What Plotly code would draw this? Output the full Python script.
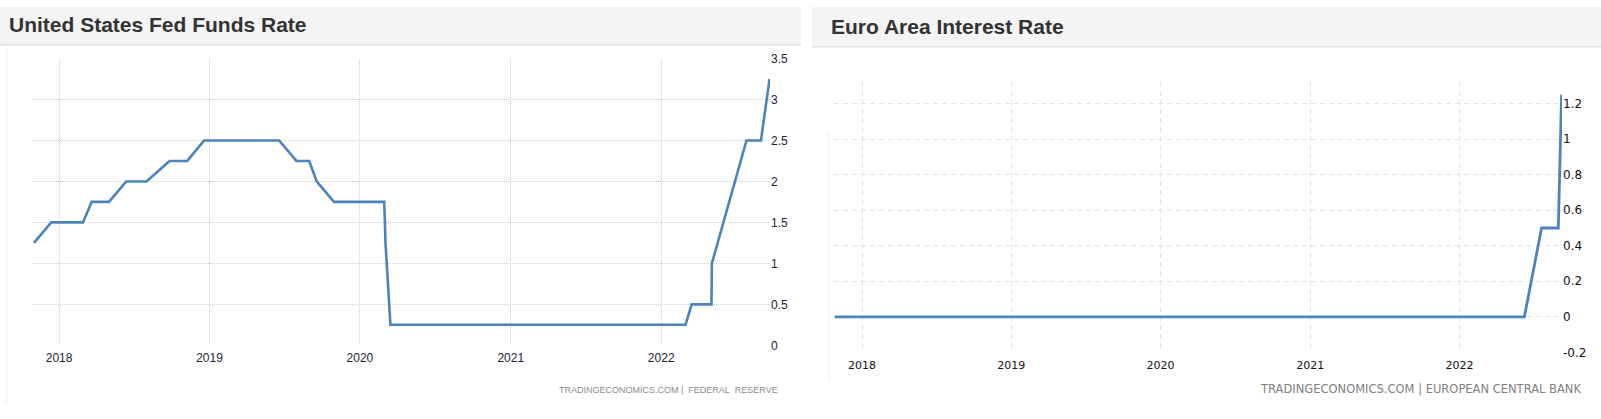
import plotly.graph_objects as go

W, H = 1601, 419

# ---------------- data ----------------
left_title = "United States Fed Funds Rate"
right_title = "Euro Area Interest Rate"
left_source = "TRADINGECONOMICS.COM |\u00a0\u00a0FEDERAL\u00a0\u00a0RESERVE"
right_source = "TRADINGECONOMICS.COM | EUROPEAN CENTRAL BANK"

us_dates = [
    "2017-11-01", "2017-12-13",
    "2018-01-31", "2018-02-28", "2018-03-21", "2018-05-02", "2018-06-13",
    "2018-08-01", "2018-09-26", "2018-11-08", "2018-12-19",
    "2019-01-30", "2019-03-20", "2019-05-01", "2019-06-19", "2019-07-31",
    "2019-08-31", "2019-09-18", "2019-10-30", "2019-12-11",
    "2020-01-29", "2020-02-29", "2020-03-03", "2020-03-15", "2020-04-29",
    "2020-06-10", "2020-07-29", "2020-09-16", "2020-11-05", "2020-12-16",
    "2021-01-27", "2021-03-17", "2021-04-28", "2021-06-16", "2021-07-28",
    "2021-09-22", "2021-11-03", "2021-12-15",
    "2022-01-26", "2022-03-01", "2022-03-16", "2022-05-03", "2022-05-04",
    "2022-06-15", "2022-07-27", "2022-08-31", "2022-09-21",
]
us_rates = [
    1.25, 1.50,
    1.50, 1.50, 1.75, 1.75, 2.00,
    2.00, 2.25, 2.25, 2.50,
    2.50, 2.50, 2.50, 2.50, 2.25,
    2.25, 2.00, 1.75, 1.75,
    1.75, 1.75, 1.25, 0.25, 0.25,
    0.25, 0.25, 0.25, 0.25, 0.25,
    0.25, 0.25, 0.25, 0.25, 0.25,
    0.25, 0.25, 0.25,
    0.25, 0.25, 0.50, 0.50, 1.00,
    1.75, 2.50, 2.50, 3.25,
]

ea_dates = [
    "2017-10-26", "2018-03-08", "2018-06-14", "2018-10-25", "2019-03-07",
    "2019-06-06", "2019-10-24", "2020-03-12", "2020-06-04", "2020-10-29",
    "2021-03-11", "2021-06-10", "2021-10-28", "2022-03-10", "2022-06-09",
    "2022-07-21", "2022-08-31", "2022-09-08",
]
ea_rates = [
    0, 0, 0, 0, 0,
    0, 0, 0, 0, 0,
    0, 0, 0, 0, 0,
    0.5, 0.5, 1.25,
]

year_ticks = ["2018-01-01", "2019-01-01", "2020-01-01", "2021-01-01", "2022-01-01"]
year_labels = ["2018", "2019", "2020", "2021", "2022"]
us_yticks = [0, 0.5, 1, 1.5, 2, 2.5, 3, 3.5]
us_ylabels = ["0", "0.5", "1", "1.5", "2", "2.5", "3", "3.5"]
ea_yticks = [-0.2, 0, 0.2, 0.4, 0.6, 0.8, 1.0, 1.2]
ea_ylabels = ["-0.2", "0", "0.2", "0.4", "0.6", "0.8", "1", "1.2"]


# ---------------- helpers (pixel -> paper) ----------------
def fx(x):
    return x / W


def fy(y):
    return 1 - y / H


LINE = "#4a84bb"

fig = go.Figure()
fig.add_trace(go.Scatter(x=us_dates, y=us_rates, mode="lines",
                         line=dict(color=LINE, width=2.6),
                         xaxis="x", yaxis="y", hoverinfo="skip"))
fig.add_trace(go.Scatter(x=ea_dates, y=ea_rates, mode="lines",
                         line=dict(color=LINE, width=2.8),
                         xaxis="x2", yaxis="y2", hoverinfo="skip"))

left_font = dict(family="Liberation Sans, Arial, sans-serif", size=12, color="#222233")
right_font = dict(family="DejaVu Sans, Verdana, sans-serif", size=12, color="#111111")

fig.update_layout(
    width=W, height=H,
    margin=dict(l=0, r=0, t=0, b=0),
    paper_bgcolor="white", plot_bgcolor="white",
    showlegend=False,
    xaxis=dict(
        domain=[fx(32.3), fx(770)], anchor="y", type="date",
        range=["2017-10-28", "2022-09-22"],
        tickvals=year_ticks, ticktext=year_labels,
        showgrid=True, gridcolor="#cfcfcf", griddash="1px,1px", gridwidth=1,
        zeroline=False, showline=False, ticks="", ticklabelstandoff=4,
        tickfont=left_font, fixedrange=True,
    ),
    yaxis=dict(
        domain=[fy(350), fy(53.3)], anchor="x", side="right",
        range=[0, 3.5],
        tickvals=us_yticks, ticktext=us_ylabels,
        showgrid=True, gridcolor="#cfcfcf", griddash="1px,1px", gridwidth=1,
        zeroline=False, showline=False, ticks="",
        tickfont=left_font, fixedrange=True,
    ),
    xaxis2=dict(
        domain=[fx(834.3), fx(1562)], anchor="y2", type="date",
        range=["2017-10-25", "2022-09-09"],
        tickvals=year_ticks, ticktext=year_labels,
        showgrid=True, gridcolor="#e2e2e2", griddash="5px,4px", gridwidth=1,
        zeroline=False, showline=False, ticks="", ticklabelstandoff=5,
        tickfont=dict(family="DejaVu Sans, Verdana, sans-serif", size=11, color="#111111"),
        fixedrange=True,
    ),
    yaxis2=dict(
        domain=[fy(357.3), fy(77.7)], anchor="x2", side="right",
        range=[-0.2, 1.321],
        tickvals=ea_yticks, ticktext=ea_ylabels,
        showgrid=True, gridcolor="#e2e2e2", griddash="5px,4px", gridwidth=1,
        zeroline=False, showline=False, ticks="",
        tickfont=right_font, fixedrange=True,
    ),
)

shapes = [
    # title bars
    dict(type="rect", xref="paper", yref="paper", x0=fx(0), x1=fx(801), y0=fy(39), y1=fy(0),
         fillcolor="#f4f4f4", line=dict(width=0), layer="below"),
    dict(type="line", xref="paper", yref="paper", x0=fx(0), x1=fx(801), y0=fy(39.3), y1=fy(39.3),
         line=dict(color="#d2d2d2", width=1)),
    dict(type="rect", xref="paper", yref="paper", x0=fx(812), x1=fx(1601), y0=fy(41), y1=fy(0),
         fillcolor="#f4f4f4", line=dict(width=0), layer="below"),
    dict(type="line", xref="paper", yref="paper", x0=fx(812), x1=fx(1601), y0=fy(41.3), y1=fy(41.3),
         line=dict(color="#d2d2d2", width=1)),
    # faint panel borders
    dict(type="line", xref="paper", yref="paper", x0=fx(6.8), x1=fx(6.8), y0=fy(410), y1=fy(40),
         line=dict(color="#eeeeee", width=1)),
    dict(type="line", xref="paper", yref="paper", x0=fx(829), x1=fx(829), y0=fy(387), y1=fy(130),
         line=dict(color="#eeeeee", width=1)),
]
fig.update_layout(shapes=shapes)

annotations = [
    dict(text="<b>" + left_title + "</b>", xref="paper", yref="paper", x=fx(7), y=fy(18.5),
         xanchor="left", yanchor="middle", showarrow=False,
         font=dict(family="Liberation Sans, Arial, sans-serif", size=21, color="#333333")),
    dict(text="<b>" + right_title + "</b>", xref="paper", yref="paper", x=fx(829), y=fy(19.7),
         xanchor="left", yanchor="middle", showarrow=False,
         font=dict(family="Liberation Sans, Arial, sans-serif", size=21, color="#333333")),
    dict(text=left_source, xref="paper", yref="paper", x=fx(780), y=fy(396.7),
         xanchor="right", yanchor="middle", showarrow=False,
         font=dict(family="Liberation Sans, Arial, sans-serif", size=9, color="#8a8a8a")),
    dict(text=right_source, xref="paper", yref="paper", x=fx(1583), y=fy(395),
         xanchor="right", yanchor="middle", showarrow=False,
         font=dict(family="DejaVu Sans, Verdana, sans-serif", size=11.5, color="#808080")),
]
fig.update_layout(annotations=annotations)

fig.write_html(
    "out.html",
    config={"displayModeBar": False},
    post_script="document.body.style.margin='0';document.body.style.padding='0';"
                "document.body.style.overflow='hidden';"
                "document.documentElement.style.overflow='hidden';",
)
